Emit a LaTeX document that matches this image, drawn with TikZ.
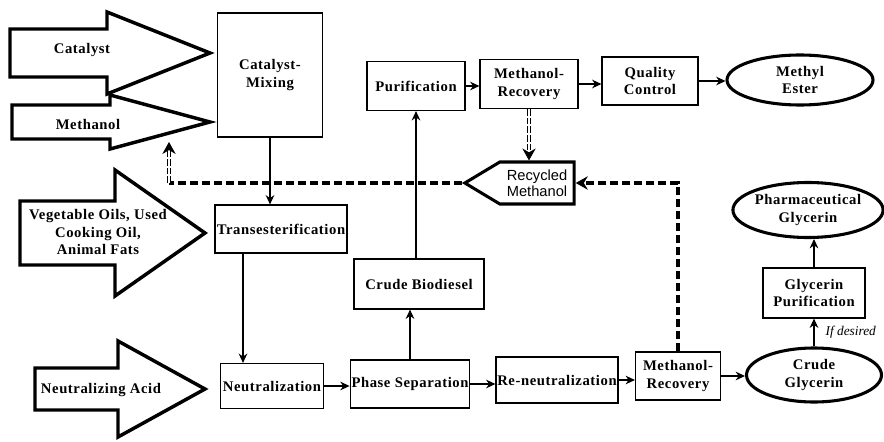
\documentclass[tikz,border=0pt]{standalone}
\usepackage{fontspec}
\setmainfont{Liberation Serif}
\newfontfamily\boxfont[LetterSpace=4]{Liberation Serif}
\newfontfamily\shapefont{Liberation Sans}
\usetikzlibrary{arrows.meta,shapes.geometric,shapes.symbols}

\begin{document}
\begin{tikzpicture}
[x=0.75pt,y=-0.75pt,
  boxDecorate/.style={draw,line width=0.9pt,align=center,inner sep=1pt,
    font=\boxfont\bfseries\fontsize{11}{13}\selectfont},%
  endDecorate/.style={boxDecorate,shape=ellipse,line width=2.3pt},%
  fatArrow/.style={draw,line width=2.6pt,miter limit=4},%
  inText/.style={align=center,font=\boxfont\bfseries\fontsize{11}{13}\selectfont},%
  lineDecorate/.style={line width=0.8pt,-{Stealth[length=7pt,width=6.5pt]}},%
  recycleLine/.style={line width=2.3pt,dash pattern=on 6pt off 3pt},%
  recycleArrow/.style={recycleLine,-{Stealth[length=9pt,width=10pt]}},%
  recycleDouble/.style={double,double distance=1.6pt,line width=0.7pt,
    dash pattern=on 5pt off 1.5pt,-{Stealth[length=9pt,width=10pt]}}]
\useasboundingbox (0,0) rectangle (884,442);
%% feed arrows
\foreach \arrowname/\xa/\xb/\xc/\yc/\bh/\hh in {
  catalystIn/10/107/210/53/24/41, methanolIn/12/110/210/122/17/27,
  oilIn/20/115/205/233/32/63, acidIn/35/118/205/389/21/48}
{
  \draw[fatArrow] (\xa,\yc-\bh) -- (\xb,\yc-\bh) -- (\xb,\yc-\hh) -- (\xc,\yc)
    -- (\xb,\yc+\hh) -- (\xb,\yc+\bh) -- (\xa,\yc+\bh) -- cycle;
  \coordinate (\arrowname) at (\xc,\yc);
}
\node (catalystTxt) at (82,50) [inText] {Catalyst};
\node (methanolTxt) at (88,124) [inText] {Methanol};
\node (oilTxt) at (98,232) [inText] {Vegetable Oils, Used\\Cooking Oil,\\Animal Fats};
\node (acidTxt) at (101,390) [inText] {Neutralizing Acid};
%% process boxes
\foreach \nodename/\x/\y/\w/\h/\nodetext in {
  catMix/270/75/105/124/{Catalyst-\\Mixing},
  trans/281/229/132/48/{Transesterification},
  neutr/272/386/103/45/{Neutralization},
  phaseSep/410/384/119/48/{Phase Separation},
  crudeBio/419/284/130/50/{Crude Biodiesel},
  purif/416/86/98/49/{Purification},
  mrTop/529/84/98/49/{Methanol-\\Recovery},
  qc/650/81/96/48/{Quality\\Control},
  reneutr/557/380/117/46/{Re-neutralization},
  mrBot/678/376/85/48/{Methanol-\\Recovery},
  glyPurif/814/293/102/50/{Glycerin\\Purification}}
{
  \node (\nodename) at (\x,\y) [boxDecorate,minimum width=\w*0.75pt,minimum height=\h*0.75pt] {\nodetext};
}
%% products
\foreach \nodename/\x/\y/\w/\h/\nodetext in {
  methylEster/800/80/146/50/{Methyl\\Ester},
  crudeGly/814/375/135/54/{Crude\\Glycerin},
  pharmGly/808/210/135/55/{Pharmaceutical\\Glycerin}}
{
  \node (\nodename) at (\x,\y) [endDecorate,inner sep=0pt,minimum width=\w*0.75pt,minimum height=\h*0.75pt] {\nodetext};
}
\node (recycled) at (537,183) [signal,signal to=west,signal pointer angle=62,draw,
  line width=2.3pt,minimum width=82pt,minimum height=31.5pt,inner sep=0pt,align=center,
  font=\shapefont\fontsize{11}{12}\selectfont] {Recycled\\Methanol};
%% edges or lines
\draw[lineDecorate] (catMix.south) -- (catMix.south |- trans.north);
\draw[lineDecorate] (trans.south -| 243,0) -- (neutr.north -| 243,0);
\draw[lineDecorate] (neutr.east) -- (neutr.east -| phaseSep.west);
\draw[lineDecorate] (phaseSep.north) -- (phaseSep.north |- crudeBio.south);
\draw[lineDecorate] (purif.south |- crudeBio.north) -- (purif.south);
\draw[lineDecorate] (purif.east) -- (purif.east -| mrTop.west);
\draw[lineDecorate] (mrTop.east) -- (mrTop.east -| qc.west);
\draw[lineDecorate] (qc.east) -- (qc.east -| methylEster.west);
\draw[lineDecorate] (phaseSep.east) -- (phaseSep.east -| reneutr.west);
\draw[lineDecorate] (reneutr.east) -- (reneutr.east -| mrBot.west);
\draw[lineDecorate] (mrBot.east) -- (mrBot.east -| crudeGly.west);
\draw[lineDecorate] (crudeGly.north) -- node[right,xshift=5pt,font=\itshape\fontsize{10}{12}\selectfont] {If desired} (glyPurif.south);
\draw[lineDecorate] (glyPurif.north) -- (glyPurif.north |- pharmGly.south);
%% methanol recycle
\coordinate (bend) at (169,183);
\coordinate (backIn) at (169,142);
\draw[recycleDouble] (mrTop.south) -- (mrTop.south |- recycled.north);
\draw[recycleArrow] (mrBot.north) |- (recycled.east);
\draw[recycleLine] (recycled.west) -- (bend);
\draw[recycleDouble] (bend) -- (backIn);
\end{tikzpicture}
\end{document}
